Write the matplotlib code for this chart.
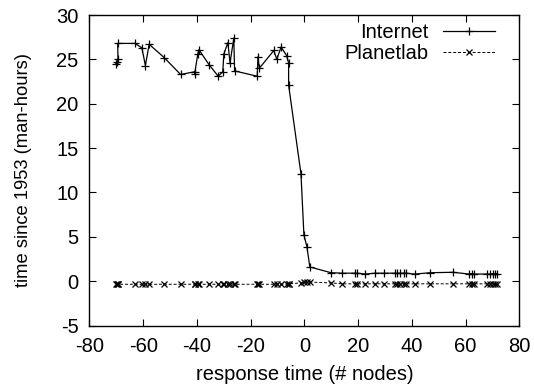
import matplotlib
matplotlib.use("Agg")
import matplotlib.pyplot as plt

# --- DATA ---
nodes = [-70.2, -69.9, -69.4, -69.5, -63.1, -60.5, -59.2, -57.8, -52.2, -46.1,
         -40.9, -40.9, -39.7, -39.3, -35.5, -32.1, -30.4, -30.0, -28.5, -27.7,
         -26.3, -26.0, -17.6, -17.3, -16.8, -11.4, -10.3, -8.7, -6.6, -5.9,
         -5.9, -1.3, -0.2, 0.9, 2.0, 9.9, 14.1, 18.9, 19.5, 22.6,
         26.2, 29.7, 33.7, 34.5, 35.4, 37.0, 37.8, 41.1, 46.7, 55.4,
         61.2, 62.2, 63.1, 68.0, 69.0, 70.0, 70.9, 71.5]

internet = [24.5, 24.7, 25.0, 26.8, 26.8, 26.3, 24.3, 26.7, 25.2, 23.3,
            23.6, 23.3, 25.6, 26.1, 24.4, 23.1, 23.6, 25.6, 26.9, 24.6,
            27.4, 23.7, 23.1, 25.3, 24.0, 26.0, 25.0, 26.4, 25.4, 24.6,
            22.1, 12.1, 5.2, 3.9, 1.6, 0.95, 0.9, 0.9, 0.9, 0.8,
            0.9, 0.9, 0.9, 0.9, 0.9, 0.9, 0.9, 0.8, 0.95, 1.0,
            0.8, 0.85, 0.8, 0.8, 0.8, 0.85, 0.85, 0.85]

planetlab = [-0.35, -0.35, -0.35, -0.35, -0.35, -0.35, -0.35, -0.35, -0.35, -0.35,
             -0.35, -0.35, -0.35, -0.35, -0.35, -0.35, -0.35, -0.35, -0.35, -0.35,
             -0.35, -0.35, -0.35, -0.35, -0.35, -0.35, -0.35, -0.35, -0.35, -0.3,
             -0.3, -0.2, -0.1, -0.1, -0.1, -0.2, -0.3, -0.3, -0.3, -0.3,
             -0.3, -0.3, -0.3, -0.3, -0.3, -0.3, -0.3, -0.3, -0.3, -0.3,
             -0.3, -0.3, -0.3, -0.3, -0.3, -0.3, -0.3, -0.3]

x_ticks = [-80, -60, -40, -20, 0, 20, 40, 60, 80]
y_ticks = [-5, 0, 5, 10, 15, 20, 25, 30]

plt.rcParams['font.family'] = ['Liberation Sans', 'DejaVu Sans']
plt.rcParams['font.size'] = 14.5
plt.rcParams['axes.unicode_minus'] = False

fig = plt.figure(figsize=(5.34, 3.92), dpi=100)
ax = fig.add_axes([0.1676, 0.1696, 0.8051, 0.7921])

ax.plot(nodes, internet, color='black', linewidth=0.9, marker='+',
        markersize=5.5, markeredgewidth=0.9, label='Internet')
ax.plot(nodes, planetlab, color='black', linewidth=0.7, linestyle=(0, (3, 2)),
        marker='x', markersize=4, markeredgewidth=0.9, label='Planetlab')

ax.set_xlim(-80, 80)
ax.set_ylim(-5, 30)
ax.set_xticks(x_ticks)
ax.set_yticks(y_ticks)
ax.tick_params(direction='in', length=5, width=0.8, top=True, right=True)
ax.tick_params(axis='x', pad=8)
ax.tick_params(axis='y', pad=8)
for s in ax.spines.values():
    s.set_linewidth(1.0)

ax.set_xlabel('response time (# nodes)', labelpad=7)
ax.set_ylabel('time since 1953 (man-hours)', fontsize=13.2, labelpad=17)

ax.legend(loc='upper right', frameon=False, markerfirst=False, handlelength=2.6,
          borderpad=0, borderaxespad=0, labelspacing=0.1, handletextpad=0.7,
          bbox_to_anchor=(0.943, 0.975))

fig.savefig('out.png', dpi=100)
